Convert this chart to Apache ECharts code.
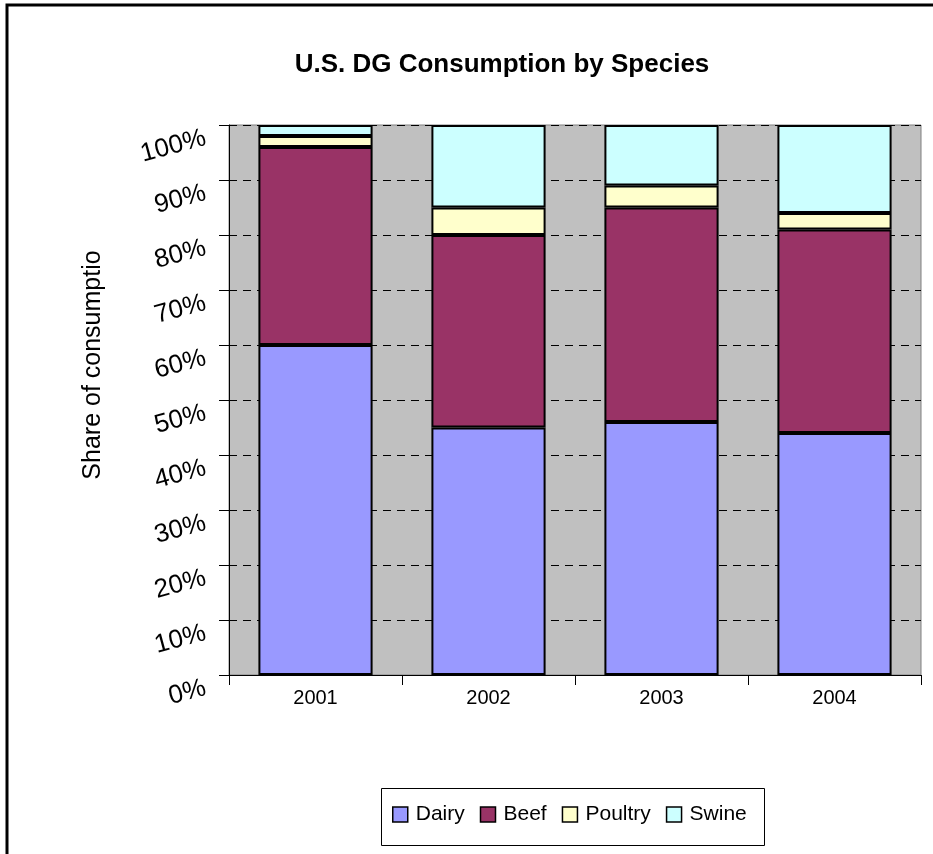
<!DOCTYPE html>
<html><head><meta charset="utf-8">
<script src="https://cdn.jsdelivr.net/npm/echarts@6/dist/echarts.min.js"></script>
<style>html,body{margin:0;padding:0;background:#fff}#c{width:933px;height:854px}</style>
</head><body><div id="c"></div>
<script>
const categories = ['2001','2002','2003','2004'];
const dairy   = [60, 45, 46, 44];
const beef    = [36, 35, 39, 37];
const poultry = [2, 5, 4, 3];
const swine   = [2, 15, 11, 16];
const seriesNames = ['Dairy','Beef','Poultry','Swine'];
const colors = ['#9999FF','#993366','#FFFFCC','#CCFFFF'];
const font = '"Liberation Sans", Arial, sans-serif';

const chart = echarts.init(document.getElementById('c'));
const data = [dairy, beef, poultry, swine];
chart.setOption({
  animation: false,
  backgroundColor: '#fff',
  title: {
    text: 'U.S. DG Consumption by Species',
    left: 497, top: 47, textAlign: 'center',
    textStyle: {fontFamily: font, fontSize: 26, fontWeight: 'bold', color: '#000'}
  },
  graphic: [{
    type: 'rect', shape: {x: 7, y: 5, width: 1000, height: 1000},
    style: {fill: 'none', stroke: '#000', lineWidth: 3}, silent: true
  }, {
    type: 'rect', shape: {x: 381.5, y: 788.5, width: 383, height: 57},
    style: {fill: 'none', stroke: '#000', lineWidth: 1}, silent: true
  }, {
    type: 'text', x: 93, y: 365, rotation: Math.PI / 2,
    style: {text: 'Share of consumptio', fontFamily: font, fontSize: 25, fill: '#000',
            textAlign: 'center', textVerticalAlign: 'middle'}, silent: true
  }],
  legend: {
    data: seriesNames,
    left: 392, top: 804,
    padding: 0,
    itemWidth: 15, itemHeight: 15, itemGap: 15,
    icon: 'rect',
    itemStyle: {borderColor: '#000', borderWidth: 1.5},
    textStyle: {fontFamily: font, fontSize: 21, color: '#000', padding: [0, 0, 0, 3]}
  },
  grid: {
    left: 229, top: 125, right: 12, bottom: 179,
    show: true, backgroundColor: '#C0C0C0', borderColor: '#808080', borderWidth: 1
  },
  xAxis: {
    type: 'category', data: categories,
    axisLine: {lineStyle: {color: '#000', width: 1}},
    axisTick: {show: true, length: 10, lineStyle: {color: '#000'}},
    axisLabel: {fontFamily: font, fontSize: 20, color: '#000', margin: 13}
  },
  yAxis: {
    type: 'value', min: 0, max: 100, interval: 10,
    axisLine: {show: true, lineStyle: {color: '#000', width: 1}},
    axisTick: {show: true, length: 10, lineStyle: {color: '#000'}},
    axisLabel: {formatter: '{value}%', rotate: 15, verticalAlign: 'top',
                fontFamily: font, fontSize: 26, color: '#000', margin: 27},
    splitLine: {show: true, lineStyle: {color: '#000', width: 1, type: [8, 6]}}
  },
  series: data.map((d, i) => ({
    name: seriesNames[i], type: 'bar', stack: 'total', data: d,
    barWidth: '66%',
    itemStyle: {color: colors[i], borderColor: '#000', borderWidth: 2}
  }))
});
</script></body></html>
